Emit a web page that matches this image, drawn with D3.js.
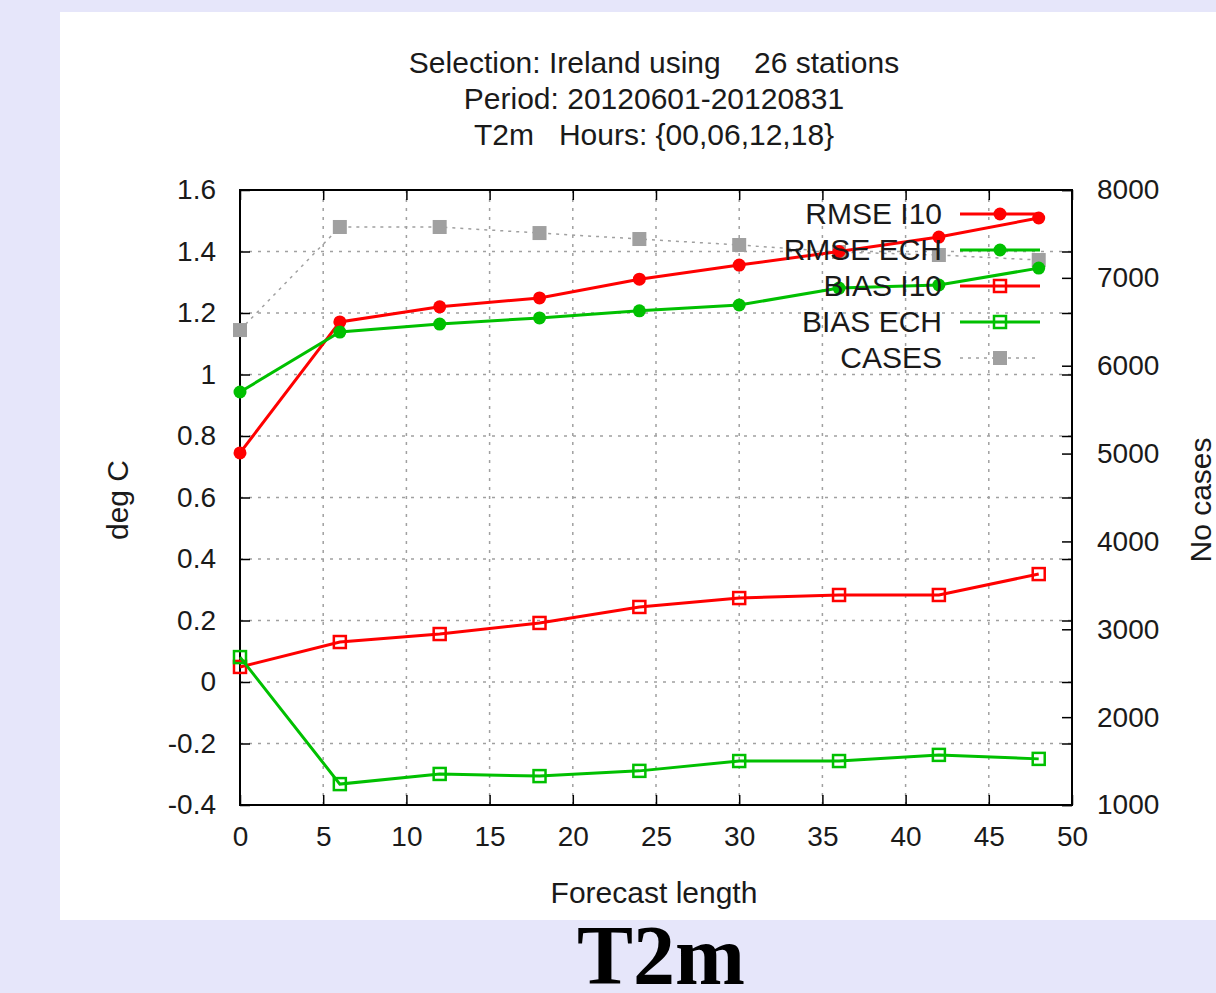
<!DOCTYPE html>
<html>
<head>
<meta charset="utf-8">
<script src="https://cdn.jsdelivr.net/npm/d3@7"></script>
<style>
  body { margin: 0; background: #e6e6fa; }
  svg { display: block; }
  text { font-family: "Liberation Sans", Arial, sans-serif; fill: #1a1a1a; }
</style>
</head>
<body>
<script>
const config = {
  width: 1216,
  height: 993
};

// Data
const hours = [0, 6, 12, 18, 24, 30, 36, 42, 48];
const rmseI10 = [0.745, 1.171, 1.22, 1.249, 1.31, 1.356, 1.40, 1.447, 1.509];
const rmseECH = [0.943, 1.138, 1.164, 1.184, 1.207, 1.226, 1.281, 1.291, 1.346];
const biasI10 = [0.049, 0.13, 0.156, 0.192, 0.244, 0.273, 0.283, 0.283, 0.351];
const biasECH = [0.081, -0.332, -0.299, -0.306, -0.289, -0.257, -0.257, -0.237, -0.25];
const cases = [6406, 7579, 7579, 7510, 7442, 7374, 7294, 7260, 7203];

const xTicks = [0, 5, 10, 15, 20, 25, 30, 35, 40, 45, 50];
const yTicks = [-0.4, -0.2, 0, 0.2, 0.4, 0.6, 0.8, 1, 1.2, 1.4, 1.6];
const y2Ticks = [1000, 2000, 3000, 4000, 5000, 6000, 7000, 8000];

const titleLines = [
  "Selection: Ireland using    26 stations",
  "Period: 20120601-20120831",
  "T2m   Hours: {00,06,12,18}"
];

const series = [
  { name: "RMSE I10", values: rmseI10, color: "#ff0000", marker: "dot" },
  { name: "RMSE ECH", values: rmseECH, color: "#00c000", marker: "dot" },
  { name: "BIAS I10", values: biasI10, color: "#ff0000", marker: "box" },
  { name: "BIAS ECH", values: biasECH, color: "#00c000", marker: "box" }
];

const svg = d3
  .select("body")
  .append("svg")
  .attr("width", config.width)
  .attr("height", config.height);

// white panel
svg.append("rect")
  .attr("x", 60).attr("y", 12)
  .attr("width", 1156).attr("height", 908)
  .attr("fill", "#fff");

const plot = { left: 240, right: 1072, top: 190, bottom: 805 };

const x = d3.scaleLinear().domain([0, 50]).range([plot.left, plot.right]);
const y = d3.scaleLinear().domain([-0.4, 1.6]).range([plot.bottom, plot.top]);
const y2 = d3.scaleLinear().domain([1000, 8000]).range([plot.bottom, plot.top]);

// grid
const grid = svg.append("g")
  .attr("stroke", "#a0a0a0")
  .attr("stroke-width", 1.5)
  .attr("stroke-dasharray", "3,6");
grid.selectAll(".gx")
  .data(xTicks.slice(1, -1))
  .enter().append("line")
  .attr("x1", d => x(d)).attr("x2", d => x(d))
  .attr("y1", plot.top).attr("y2", plot.bottom);
grid.selectAll(".gy")
  .data(yTicks.slice(1, -1))
  .enter().append("line")
  .attr("y1", d => y(d)).attr("y2", d => y(d))
  .attr("x1", plot.left).attr("x2", plot.right);

// axes, ticks inward like gnuplot
const fmt = d => String(+d.toFixed(1));
const tickLen = 10;
const axisBottom = svg.append("g")
  .attr("transform", `translate(0,${plot.bottom})`)
  .call(d3.axisBottom(x).tickValues(xTicks).tickSizeInner(-tickLen).tickSizeOuter(0).tickPadding(22));
const axisTop = svg.append("g")
  .attr("transform", `translate(0,${plot.top})`)
  .call(d3.axisTop(x).tickValues(xTicks).tickSizeInner(-tickLen).tickSizeOuter(0).tickFormat(""));
const axisLeft = svg.append("g")
  .attr("transform", `translate(${plot.left},0)`)
  .call(d3.axisLeft(y).tickValues(yTicks).tickFormat(fmt).tickSizeInner(-tickLen).tickSizeOuter(0).tickPadding(24));
const axisRightMirror = svg.append("g")
  .attr("transform", `translate(${plot.right},0)`)
  .call(d3.axisRight(y).tickValues(yTicks).tickSizeInner(-tickLen).tickSizeOuter(0).tickFormat(""));
const axisRight = svg.append("g")
  .attr("transform", `translate(${plot.right},0)`)
  .call(d3.axisRight(y2).tickValues(y2Ticks).tickFormat(d => String(d)).tickSizeInner(-tickLen).tickSizeOuter(0).tickPadding(25));

[axisBottom, axisTop, axisLeft, axisRightMirror, axisRight].forEach(a => {
  a.select(".domain").remove();
  a.selectAll(".tick line").attr("stroke", "#000").attr("stroke-width", 1.5);
  a.selectAll(".tick text")
    .attr("font-size", "28px")
    .attr("font-family", "Liberation Sans, Arial, sans-serif")
    .attr("fill", "#1a1a1a");
});
axisBottom.selectAll(".tick text").attr("dy", "0.68em");

// border box
svg.append("rect")
  .attr("x", plot.left).attr("y", plot.top)
  .attr("width", plot.right - plot.left).attr("height", plot.bottom - plot.top)
  .attr("fill", "none").attr("stroke", "#000").attr("stroke-width", 2);

// title
svg.append("g").selectAll("text")
  .data(titleLines)
  .enter().append("text")
  .attr("x", 654)
  .attr("y", (d, i) => 73 + i * 36)
  .attr("text-anchor", "middle")
  .attr("font-size", "30px")
  .style("white-space", "pre")
  .text(d => d);

// axis labels
svg.append("text")
  .attr("transform", "translate(128,500) rotate(-90)")
  .attr("text-anchor", "middle")
  .attr("font-size", "30px")
  .text("deg C");
svg.append("text")
  .attr("transform", "translate(1211,500) rotate(-90)")
  .attr("text-anchor", "middle")
  .attr("font-size", "30px")
  .text("No cases");
svg.append("text")
  .attr("x", 654).attr("y", 903)
  .attr("text-anchor", "middle")
  .attr("font-size", "30px")
  .text("Forecast length");

// cases line (right axis)
const lineCases = d3.line().x((d, i) => x(hours[i])).y(d => y2(d));
svg.append("path")
  .attr("d", lineCases(cases))
  .attr("fill", "none")
  .attr("stroke", "#a0a0a0")
  .attr("stroke-width", 1.5)
  .attr("stroke-dasharray", "3,5");
svg.append("g").selectAll("rect")
  .data(cases)
  .enter().append("rect")
  .attr("x", (d, i) => x(hours[i]) - 7)
  .attr("y", d => y2(d) - 7)
  .attr("width", 14).attr("height", 14)
  .attr("fill", "#a0a0a0");

// main series
const line = d3.line().x((d, i) => x(hours[i])).y(d => y(d));
const drawMarker = (g, s, cx, cy) => {
  if (s.marker === "dot") {
    g.append("circle")
      .attr("cx", cx).attr("cy", cy).attr("r", 6.5)
      .attr("fill", s.color);
  } else {
    g.append("rect")
      .attr("x", cx - 6).attr("y", cy - 6)
      .attr("width", 12).attr("height", 12)
      .attr("fill", "none").attr("stroke", s.color).attr("stroke-width", 2.5);
  }
};

series.forEach(s => {
  const g = svg.append("g");
  g.append("path")
    .attr("d", line(s.values))
    .attr("fill", "none")
    .attr("stroke", s.color)
    .attr("stroke-width", 3);
  s.values.forEach((v, i) => drawMarker(g, s, x(hours[i]), y(v)));
});

// legend
const legend = svg.append("g");
const legendItems = series.concat([{ name: "CASES", color: "#a0a0a0", marker: "cases" }]);
legendItems.forEach((s, i) => {
  const ly = 214 + i * 36;
  legend.append("text")
    .attr("x", 942).attr("y", ly + 10)
    .attr("text-anchor", "end")
    .attr("font-size", "30px")
    .text(s.name);
  if (s.marker === "cases") {
    legend.append("line")
      .attr("x1", 960).attr("x2", 1040).attr("y1", ly).attr("y2", ly)
      .attr("stroke", "#a0a0a0").attr("stroke-width", 1.5).attr("stroke-dasharray", "3,5");
    legend.append("rect")
      .attr("x", 993).attr("y", ly - 7).attr("width", 14).attr("height", 14)
      .attr("fill", "#a0a0a0");
  } else {
    legend.append("line")
      .attr("x1", 960).attr("x2", 1040).attr("y1", ly).attr("y2", ly)
      .attr("stroke", s.color).attr("stroke-width", 3);
    drawMarker(legend, s, 1000, ly);
  }
});

// big caption below the panel
svg.append("text")
  .attr("x", 661).attr("y", 984)
  .attr("text-anchor", "middle")
  .style("font-family", "Liberation Serif, Times New Roman, serif")
  .attr("font-weight", "bold")
  .attr("font-size", "84px")
  .style("fill", "#000")
  .text("T2m");
</script>
</body>
</html>
